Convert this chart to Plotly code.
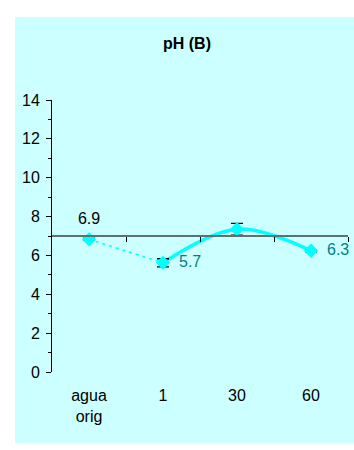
import plotly.graph_objects as go

categories = ["agua<br>orig", "1", "30", "60"]
ph_values = [6.83, 5.62, 7.35, 6.24]
ph_errors = [0.06, 0.21, 0.30, 0.06]
label_text = ["6.9", "5.7", "", "6.3"]

xi = list(range(len(categories)))
CYAN = "#00FFFF"
TEAL = "#008080"
FONT = "Liberation Sans, Arial, sans-serif"

W, H = 354, 450
L, T, R, B = 52, 100, 6, 78
pw, ph = W - L - R, H - T - B

fig = go.Figure()
# dashed segment agua -> 1
fig.add_trace(go.Scatter(x=xi[:2], y=ph_values[:2], mode="lines",
                         line=dict(color=CYAN, width=1.5, dash="3px,4px"),
                         hoverinfo="skip", showlegend=False))
# smoothed solid line 1 -> 30 -> 60
fig.add_trace(go.Scatter(x=xi[1:], y=ph_values[1:], mode="lines",
                         line=dict(color=CYAN, width=3.5, shape="spline", smoothing=1),
                         hoverinfo="skip", showlegend=False))
# markers with error bars
fig.add_trace(go.Scatter(x=xi, y=ph_values, mode="markers",
                         marker=dict(symbol="diamond", size=11, color=CYAN),
                         error_y=dict(type="data", array=ph_errors, color="black",
                                      thickness=1.3, width=6),
                         showlegend=False, cliponaxis=False))
# labels
fig.add_trace(go.Scatter(x=[xi[0]], y=[ph_values[0]], mode="markers+text", text=[label_text[0]],
                         textposition="top center",
                         marker=dict(size=17, opacity=0),
                         textfont=dict(color="black", size=16, family=FONT),
                         hoverinfo="skip", showlegend=False, cliponaxis=False))
fig.add_trace(go.Scatter(x=[xi[1], xi[3]], y=[ph_values[1], ph_values[3]], mode="markers+text",
                         text=[label_text[1], label_text[3]], textposition="middle right",
                         marker=dict(size=24, opacity=0),
                         textfont=dict(color=TEAL, size=16, family=FONT),
                         hoverinfo="skip", showlegend=False, cliponaxis=False))
# invisible trace to bind the axis drawn at y=7
fig.add_trace(go.Scatter(x=[xi[0]], y=[ph_values[0]], xaxis="x2", mode="markers",
                         marker=dict(opacity=0), hoverinfo="skip", showlegend=False))

fig.update_layout(
    width=W, height=H,
    margin=dict(l=L, r=R, t=T, b=B, autoexpand=False),
    paper_bgcolor="white", plot_bgcolor="rgba(0,0,0,0)",
    font=dict(family=FONT, size=16, color="black"),
    title=dict(text="<b>pH (B)</b>", x=187 / W, xanchor="center",
               y=1 - 43 / H, yanchor="middle",
               font=dict(size=16, family=FONT, color="black")),
    xaxis=dict(range=[-0.5, 3.5], tickvals=xi, ticktext=categories, showline=False,
               ticks="", showgrid=False, zeroline=False, ticklabelstandoff=12,
               tickfont=dict(size=16)),
    xaxis2=dict(range=[-0.5, 3.5], overlaying="x", anchor="free", position=0.5,
                side="bottom", showline=True, linecolor="#5f7070", linewidth=2,
                tickvals=[0.5, 1.5, 2.5, 3.5], ticks="outside", ticklen=5,
                tickcolor="black", showticklabels=False, showgrid=False, zeroline=False),
    yaxis=dict(range=[0, 14], dtick=2, ticks="outside", ticklen=5, tickcolor="black",
               showline=True, linecolor="black", linewidth=1, showgrid=False,
               zeroline=False, tickfont=dict(size=16), ticklabelstandoff=3,
               minor=dict(dtick=1, ticks="outside", ticklen=3, tickcolor="black")),
    shapes=[dict(type="rect", xref="paper", yref="paper",
                 x0=(15 - L) / pw, x1=(W + 10 - L) / pw,
                 y0=(H - B - 443) / ph, y1=(H - B - 17) / ph,
                 fillcolor="#CCFFFF", line=dict(width=0), layer="below")],
)

fig.write_html(
    "out.html",
    config={"displayModeBar": False},
    post_script=("document.documentElement.style.overflow='hidden';"
                 "document.body.style.margin='0';document.body.style.overflow='hidden';"),
)
